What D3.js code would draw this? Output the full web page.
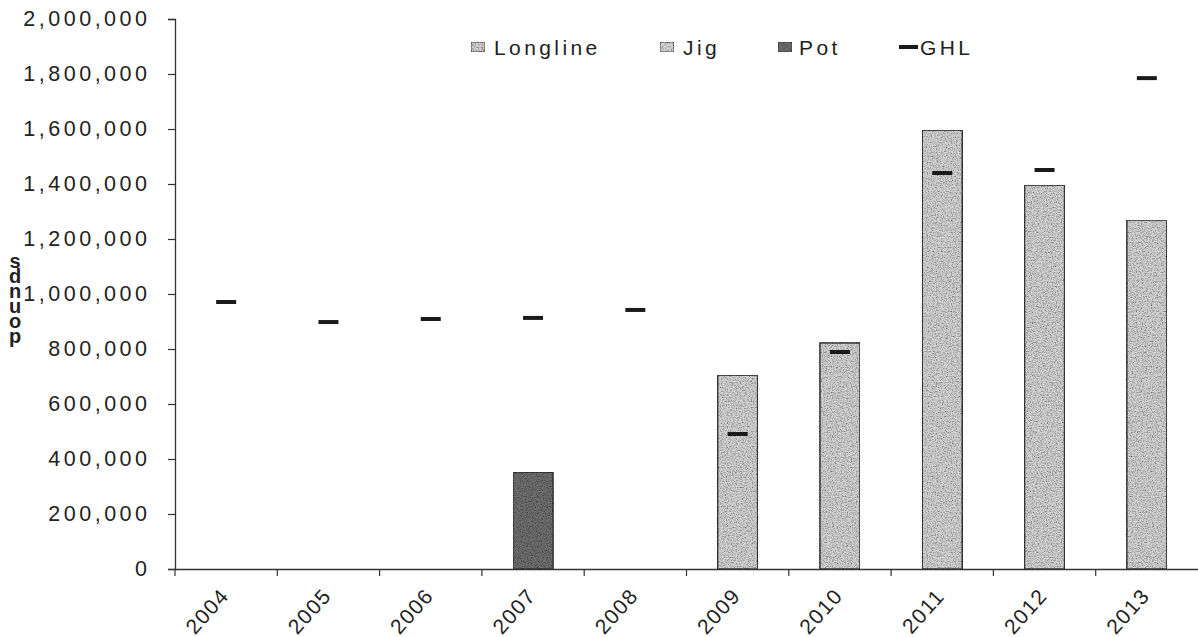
<!DOCTYPE html>
<html><head><meta charset="utf-8">
<script src="https://cdn.jsdelivr.net/npm/d3@7"></script>
<style>
body{margin:0;background:#fff;}
text{font-family:"Liberation Sans",Arial,sans-serif;fill:#222;}
</style></head>
<body><svg id="c" width="1198" height="637"></svg>
<script>
const years = ["2004","2005","2006","2007","2008","2009","2010","2011","2012","2013"];
const longline = [0,0,0,0,0,705000,822000,1596000,1396000,1269000];
const jig = [0,0,0,0,0,0,0,0,0,0];
const pot = [0,0,0,352000,0,0,0,0,0,0];
const ghl = [971000,898000,909000,913000,942000,491000,789000,1440000,1451000,1785000];
const yTicks = [0,200000,400000,600000,800000,1000000,1200000,1400000,1600000,1800000,2000000];
const legendNames = ["Longline","Jig","Pot","GHL"];
const yLabel = "sdnuop";

(function(){
const svg = d3.select("#c");
const mL = 175, mR = 1198, mT = 19, mB = 569;
const x = d3.scaleBand().domain(years).range([mL, mR]).paddingInner(0).paddingOuter(0);
const y = d3.scaleLinear().domain([0, 2000000]).range([mB, mT]);

const defs = svg.append("defs");
const f = defs.append("filter").attr("id","tex").attr("x","0").attr("y","0").attr("width","1").attr("height","1");
f.append("feTurbulence").attr("type","fractalNoise").attr("baseFrequency",0.8).attr("numOctaves",2).attr("seed",5).attr("result","n");
f.append("feColorMatrix").attr("in","n").attr("type","matrix")
 .attr("values","0 0 0 0 0  0 0 0 0 0  0 0 0 0 0  1.8 0 0 0 -0.75").attr("result","a");
f.append("feComposite").attr("in","a").attr("in2","SourceGraphic").attr("operator","in").attr("result","dots");
const m = f.append("feMerge");
m.append("feMergeNode").attr("in","SourceGraphic");
m.append("feMergeNode").attr("in","dots");

const fills = {Longline:"#d2d2d2", Jig:"#dadada", Pot:"#6e6e6e"};
const FONT = "Liberation Sans, Arial, sans-serif";

const yAxis = d3.axisLeft(y).tickValues(yTicks).tickSize(7).tickFormat(d3.format(","));
const gy = svg.append("g").attr("transform",`translate(${mL},0)`).call(yAxis);
gy.select(".domain").attr("stroke","#333").attr("stroke-width",1.3);
gy.selectAll(".tick line").attr("stroke","#333").attr("stroke-width",1.2);
gy.selectAll(".tick text").attr("x",-24.5).attr("font-size",21.5).attr("letter-spacing",3.5).attr("fill","#222")
  .style("font-family",FONT);

const xAxis = d3.axisBottom(x).tickSize(0).tickFormat(d=>d);
const gx = svg.append("g").attr("transform",`translate(0,${mB})`).call(xAxis);
gx.select(".domain").attr("stroke","#333").attr("stroke-width",1.3);
gx.selectAll(".tick text").attr("font-size",21).attr("letter-spacing",1.5)
  .attr("text-anchor","middle").attr("x",0).attr("y",0).attr("dy","0.35em").attr("transform","translate(-19,42) rotate(-48)")
  .style("font-family",FONT);
svg.append("g").selectAll("line").data(years).join("line")
  .attr("x1",d=>x(d)).attr("x2",d=>x(d)).attr("y1",mB).attr("y2",mB+7).attr("stroke","#333").attr("stroke-width",1.2);

const bw = 40;
function bars(arr, name){
  svg.append("g").selectAll("rect").data(years.map((yr,i)=>({yr,v:arr[i]})).filter(d=>d.v>0)).join("rect")
    .attr("x",d=>x(d.yr)+x.bandwidth()/2-bw/2).attr("width",bw)
    .attr("y",d=>y(d.v)).attr("height",d=>y(0)-y(d.v))
    .attr("fill",fills[name]).attr("stroke","#3a3a3a").attr("stroke-width",1.5)
    .attr("filter","url(#tex)");
}
bars(longline,"Longline");
bars(jig,"Jig");
bars(pot,"Pot");

svg.append("g").selectAll("line").data(years.map((yr,i)=>({yr,v:ghl[i]}))).join("line")
  .attr("x1",d=>x(d.yr)+x.bandwidth()/2-10).attr("x2",d=>x(d.yr)+x.bandwidth()/2+10)
  .attr("y1",d=>y(d.v)).attr("y2",d=>y(d.v)).attr("stroke","#1a1a1a").attr("stroke-width",4);

svg.append("text").attr("x",15).attr("y",250).attr("font-size",20).attr("font-weight","bold")
  .style("writing-mode","vertical-rl").style("text-orientation","upright").attr("letter-spacing",-7)
  .style("font-family",FONT).text(yLabel);

const legBox = [471, 660, 778, 899];
const legTxt = [494, 683, 799, 920];
legendNames.forEach((n,i)=>{
  const g = svg.append("g");
  if(n==="GHL"){
    g.append("line").attr("x1",legBox[i]).attr("x2",legBox[i]+19).attr("y1",47).attr("y2",47).attr("stroke","#1a1a1a").attr("stroke-width",4);
  } else {
    g.append("rect").attr("x",legBox[i]).attr("y",42).attr("width",14).attr("height",10)
      .attr("fill",fills[n]).attr("stroke","#444").attr("stroke-width",1).attr("filter","url(#tex)");
  }
  g.append("text").attr("x",legTxt[i]).attr("y",54.5).attr("font-size",21).attr("letter-spacing",3.4).style("font-family",FONT).text(n);
});
})();
</script></body></html>
